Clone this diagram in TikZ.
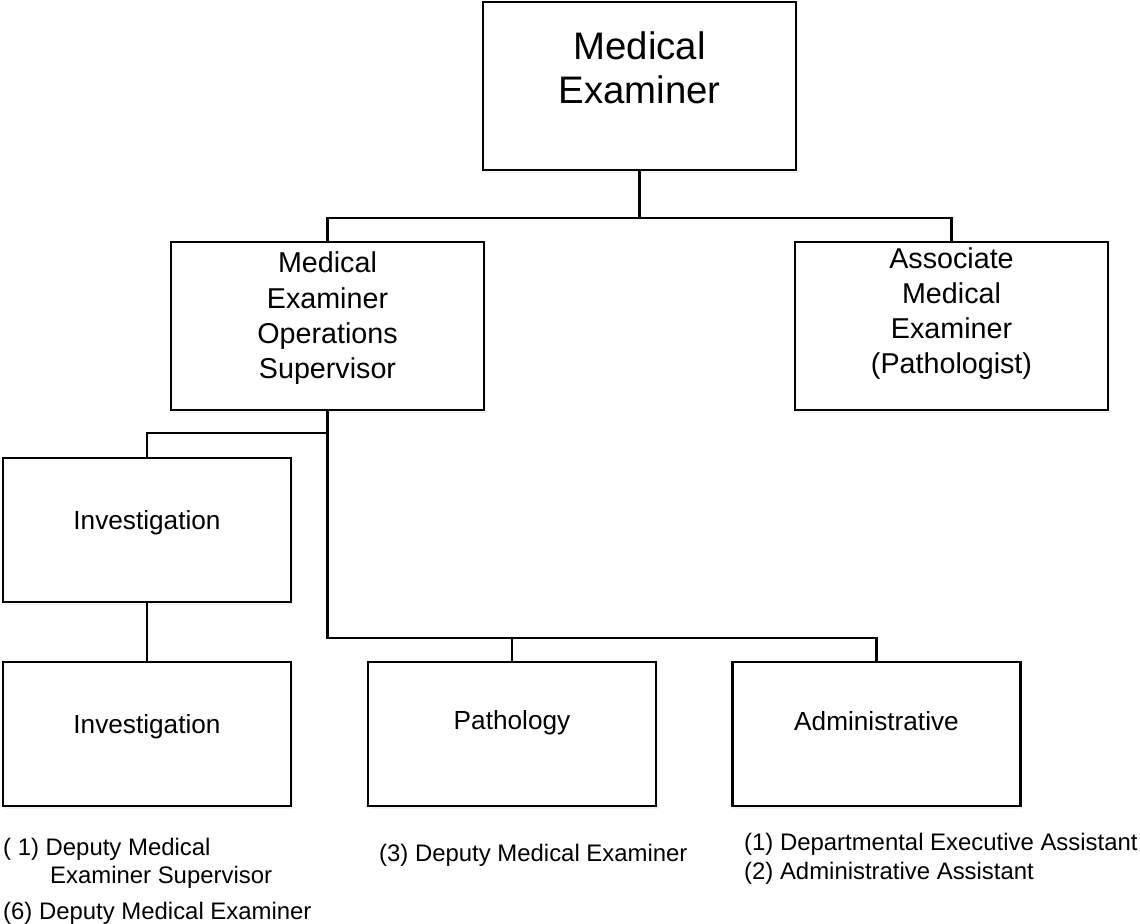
\documentclass[tikz,border=0pt]{standalone}
\usepackage{fontspec}
\setmainfont{Liberation Sans}
\usetikzlibrary{shadows}
\begin{document}
\begin{tikzpicture}[x=1bp,y=-1bp,
  box/.style={draw=black, line width=2.2bp, fill=white, inner sep=0,
    drop shadow={shadow xshift=1.5bp, shadow yshift=-2.5bp, fill={rgb,255:red,230;green,236;blue,246}, opacity=0.6}},
  bigbox/.style={box, minimum width=313bp, minimum height=168bp},
  smallbox/.style={box, minimum width=288bp, minimum height=144bp},
  conn/.style={draw=black, line width=2.1bp},
  lbl/.style={inner sep=0, anchor=north, align=center},
  note/.style={inner sep=0, anchor=base west, font=\fontsize{24}{28}\selectfont}]
\useasboundingbox (0,0) rectangle (1140,924);
% boxes
\node[bigbox] (top) at (639.5,86) {};
\node[bigbox] (ops) at (327.5,326) {};
\node[bigbox] (assoc) at (951.5,326) {};
\node[smallbox] (inv1) at (147,530) {};
\node[smallbox] (inv2) at (147,734) {};
\node[smallbox] (path) at (512,734) {};
\node[smallbox] (admin) at (876.5,734) {};
% bus lines
\coordinate (bus1) at (0,218);
\coordinate (bus2) at (0,433);
\coordinate (bus3) at (0,638);
\draw[conn] (top.south) -- (top.south |- bus1);
\draw[conn] (ops.north) |- (assoc.north |- bus1) -- (assoc.north);
\draw[conn] (ops.south) -- (ops.south |- bus3) -| (admin.north);
\draw[conn] (ops.south |- bus2) -| (inv1.north);
\draw[conn] (path.north) -- (path.north |- bus3);
\draw[conn] (inv1.south) -- (inv2.north);
% labels
\node[lbl, font=\fontsize{38.5}{44}\selectfont] (topt) at (639.5,31.5) {Medical\\Examiner};
\node[lbl, font=\fontsize{28.8}{35.2}\selectfont] (opst) at (327.5,252) {Medical\\Examiner\\Operations\\Supervisor};
\node[lbl, font=\fontsize{28.8}{35.2}\selectfont] (assoct) at (951.5,247.5) {Associate\\Medical\\Examiner\\(Pathologist)};
\node[lbl, font=\fontsize{26.3}{31}\selectfont] (inv1t) at (147,510) {Investigation};
\node[lbl, font=\fontsize{26.3}{31}\selectfont] (inv2t) at (147,714) {Investigation};
\node[lbl, font=\fontsize{26.3}{31}\selectfont] (patht) at (512,710.5) {Pathology};
\node[lbl, font=\fontsize{26.3}{31}\selectfont] (admint) at (876.5,711) {Administrative};
% notes
\node[note] (n1) at (3,855) {( 1) Deputy Medical};
\node[note] (n2) at (50,883) {Examiner Supervisor};
\node[note] (n3) at (3,919) {(6) Deputy Medical Examiner};
\node[note] (n4) at (379,861) {(3) Deputy Medical Examiner};
\node[note] (n5) at (744,850) {(1) Departmental Executive Assistant};
\node[note] (n6) at (744,879) {(2) Administrative Assistant};
\end{tikzpicture}
\end{document}
